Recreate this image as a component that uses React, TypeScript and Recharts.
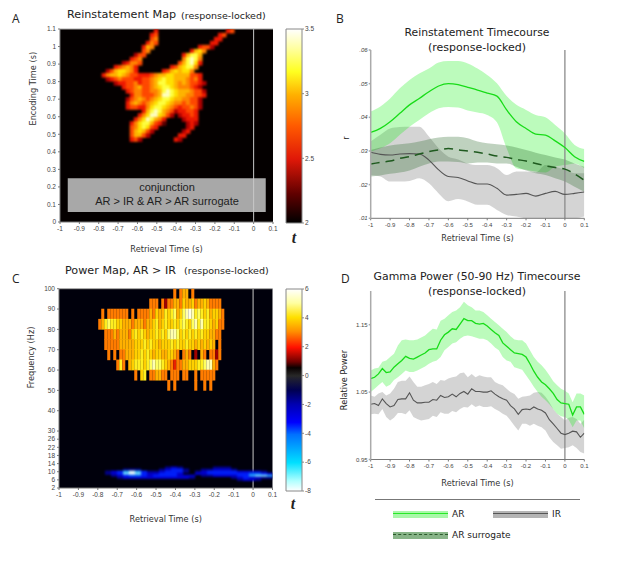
import React from "react";
import {
  ComposedChart, Area, Line, Scatter, XAxis, YAxis, ReferenceLine, ReferenceArea, CartesianGrid, Bar,
} from "recharts";

const retrievalTicks = [-1, -0.9, -0.8, -0.7, -0.6, -0.5, -0.4, -0.3, -0.2, -0.1, 0, 0.1];
const encodingTicks = [0, 0.1, 0.2, 0.3, 0.4, 0.5, 0.6, 0.7, 0.8, 0.9, 1, 1.1];
const freqTicks = [2, 6, 10, 14, 18, 22, 26, 30, 40, 50, 60, 70, 80, 90, 100];
const rTicks = [0.01, 0.02, 0.03, 0.04, 0.05, 0.06];
const powerTicks = [0.95, 1.05, 1.15];

// Panel B, time steps of 0.05 s
const timeB = [-1, -0.95, -0.9, -0.85, -0.8, -0.75, -0.7, -0.65, -0.6, -0.55, -0.5, -0.45, -0.4, -0.35, -0.3, -0.25, -0.2, -0.15, -0.1, -0.05, 0, 0.05, 0.1];
const arB = [.0355, .0367, .0387, .0412, .0437, .0456, .0476, .0493, .05, .0497, .0489, .0481, .0472, .0463, .0422, .0387, .0367, .035, .0347, .033, .031, .0283, .0269];
const arBHi = [.0417, .0432, .0456, .0486, .0511, .053, .0545, .0563, .0567, .0567, .056, .0545, .0526, .0501, .0463, .0437, .0422, .0407, .04, .0377, .0352, .0318, .0306];
const arBLo = [.0298, .0308, .0323, .0348, .0372, .0392, .0412, .0427, .0431, .0429, .042, .0414, .0407, .0385, .0308, .0249, .0244, .0239, .0236, .0253, .0258, .0263, .0249];
const irB = [.0296, .029, .0288, .0291, .0292, .0291, .0273, .0244, .0224, .0221, .0211, .0202, .0202, .0189, .0169, .0171, .0174, .0166, .0174, .018, .0171, .0174, .0178];
const irBHi = [.0328, .0348, .0367, .0371, .0372, .0372, .0343, .0308, .0283, .0275, .0263, .0258, .0258, .0249, .0229, .0239, .0239, .0236, .0258, .0253, .0244, .0234, .0234];
const irBLo = [.0229, .0224, .0209, .0209, .0211, .0219, .0204, .0174, .0151, .0157, .015, .014, .014, .0125, .011, .0105, .01, .01, .01, .01, .01, .01, .0105];
const surB = [.0261, .0266, .027, .0278, .0283, .0291, .0298, .0303, .0307, .0303, .03, .0296, .0291, .0285, .0281, .0275, .027, .0263, .0256, .0251, .0246, .0232, .0213];
const surBHi = [.0303, .031, .0316, .032, .0323, .0328, .0335, .034, .0342, .0342, .0338, .0328, .0323, .032, .0316, .031, .0303, .0295, .0288, .0281, .0275, .0263, .0253];
const surBLo = [.0224, .0227, .0232, .0236, .0242, .0253, .0263, .0269, .0269, .0267, .0263, .0266, .0266, .0263, .0263, .0253, .0242, .0234, .0229, .0219, .0209, .0194, .0179];

// Panel D, time steps of 0.02 s
const timeD = [-1, -.98, -.96, -.94, -.92, -.9, -.88, -.86, -.84, -.82, -.8, -.78, -.76, -.74, -.72, -.7, -.68, -.66, -.64, -.62, -.6, -.58, -.56, -.54, -.52, -.5, -.48, -.46, -.44, -.42, -.4, -.38, -.36, -.34, -.32, -.3, -.28, -.26, -.24, -.22, -.2, -.18, -.16, -.14, -.12, -.1, -.08, -.06, -.04, -.02, 0, .02, .04, .06, .08, .1];
const arD = [1.070, 1.072, 1.077, 1.085, 1.079, 1.080, 1.087, 1.092, 1.097, 1.103, 1.100, 1.099, 1.102, 1.105, 1.108, 1.113, 1.114, 1.114, 1.127, 1.135, 1.139, 1.144, 1.143, 1.151, 1.159, 1.156, 1.156, 1.152, 1.151, 1.152, 1.148, 1.143, 1.138, 1.134, 1.123, 1.118, 1.113, 1.108, 1.107, 1.106, 1.102, 1.092, 1.081, 1.072, 1.065, 1.061, 1.055, 1.048, 1.039, 1.034, 1.033, 1.032, 1.016, 1.028, 1.028, 1.017];
const arDHi = [1.082, 1.085, 1.086, 1.095, 1.097, 1.102, 1.107, 1.119, 1.127, 1.128, 1.127, 1.127, 1.128, 1.131, 1.134, 1.139, 1.144, 1.143, 1.156, 1.159, 1.164, 1.169, 1.171, 1.176, 1.184, 1.179, 1.176, 1.171, 1.171, 1.169, 1.164, 1.159, 1.154, 1.149, 1.144, 1.139, 1.133, 1.128, 1.127, 1.127, 1.122, 1.112, 1.102, 1.095, 1.090, 1.083, 1.075, 1.066, 1.060, 1.055, 1.052, 1.048, 1.035, 1.048, 1.048, 1.045];
const arDLo = [1.050, 1.055, 1.060, 1.065, 1.058, 1.061, 1.068, 1.072, 1.077, 1.082, 1.080, 1.080, 1.082, 1.085, 1.088, 1.092, 1.095, 1.097, 1.102, 1.112, 1.117, 1.122, 1.124, 1.129, 1.133, 1.134, 1.133, 1.131, 1.129, 1.129, 1.127, 1.122, 1.116, 1.112, 1.102, 1.097, 1.095, 1.087, 1.085, 1.083, 1.075, 1.067, 1.058, 1.050, 1.043, 1.038, 1.032, 1.025, 1.018, 1.014, 1.013, 1.009, .998, 1.008, 1.008, .996];
const irD = [1.032, 1.033, 1.030, 1.040, 1.033, 1.028, 1.030, 1.039, 1.040, 1.040, 1.049, 1.038, 1.034, 1.034, 1.035, 1.035, 1.039, 1.038, 1.045, 1.042, 1.043, 1.047, 1.043, 1.048, 1.051, 1.047, 1.055, 1.051, 1.051, 1.050, 1.050, 1.052, 1.047, 1.043, 1.040, 1.038, 1.030, 1.025, 1.017, 1.024, 1.025, 1.024, 1.028, 1.025, 1.023, 1.019, 1.009, 1.003, .996, .989, .987, .989, .992, .991, .983, .989];
const irDHi = [1.045, 1.043, 1.048, 1.050, 1.045, 1.048, 1.055, 1.065, 1.067, 1.067, 1.073, 1.065, 1.058, 1.058, 1.060, 1.062, 1.065, 1.062, 1.068, 1.067, 1.070, 1.072, 1.073, 1.078, 1.079, 1.072, 1.077, 1.072, 1.075, 1.073, 1.072, 1.072, 1.065, 1.062, 1.060, 1.055, 1.050, 1.047, 1.040, 1.043, 1.044, 1.045, 1.049, 1.050, 1.049, 1.043, 1.035, 1.025, 1.018, 1.013, 1.008, 1.012, 1.013, 1.010, 1.003, 1.009];
const irDLo = [1.017, 1.018, 1.017, 1.025, 1.013, 1.008, 1.012, 1.019, 1.019, 1.017, 1.023, 1.013, 1.010, 1.008, 1.009, 1.010, 1.015, 1.013, 1.020, 1.018, 1.018, 1.022, 1.020, 1.025, 1.028, 1.027, 1.032, 1.028, 1.030, 1.028, 1.028, 1.029, 1.025, 1.022, 1.018, 1.015, 1.008, 1.000, .993, 1.003, 1.003, 1.000, 1.003, 1.000, .998, .993, .983, .976, .971, .966, .967, .968, .971, .967, .961, .959];

// Panel A map: one list per encoding-time row, top first; each entry is [first column, level digits]
const heatARows: [number, string][][] = [
  [],
  [[16, "3"], [34, "34"]],
  [[15, "34"], [32, "34"]],
  [[15, "45"], [31, "33"]],
  [[14, "354"], [30, "33"]],
  [[13, "365"], [27, "3442"]],
  [[13, "45"], [25, "3675"]],
  [[11, "244"], [23, "36886"]],
  [[10, "345"], [23, "58985"]],
  [[8, "23554"], [22, "468973"]],
  [[6, "345653"], [20, "3467885"]],
  [[4, "24677653"], [18, "34676775"]],
  [[3, "3566765443"], [13, "334566776666443"]],
  [[4, "2345444334"], [14, "45678776665453"]],
  [[6, "2334453"], [13, "4456887765654432"]],
  [[8, "34456"], [13, "445678876555432"]],
  [[9, "34554"], [14, "455689876665442"]],
  [[10, "3554"], [14, "445699876655443"]],
  [[9, "24565"], [14, "45678876655442"]],
  [[9, "35654"], [14, "56788765545442"]],
  [[9, "34433"], [14, "57887654344542"]],
  [[13, "36898654233443"]],
  [[12, "357997642"], [22, "23343"]],
  [[11, "35798653"], [23, "2333"]],
  [[10, "357886431"], [24, "232"]],
  [[10, "4578743"], [24, "23"]],
  [[10, "467642"], [23, "23"]],
  [[10, "46642"], [22, "33"]],
  [[10, "342"], [21, "32"]],
];
const heatAT0 = -0.835;
const heatATStep = 0.0207;
const heatAE0 = 1.111;
const heatAEStep = 0.0229;

// Panel C map, gamma rows: 97.5 Hz first, one digit per time column
const z = (n: number) => "0".repeat(n);
const gammaRows = [
  z(25) + "3034403" + z(10),
  z(17) + "333031" + "334435445344543333" + "0",
  "030" + "3333333" + "030" + "3333" + "4354465674578986765645543",
  "34676655" + "444344434" + "4564565565" + "676578686" + "654533",
  "00" + "333434443" + "5656545565" + "65788756" + "5656565544" + "33" + "0",
  "00" + "333334444" + "455565655455" + "56565565" + "54545454" + "030",
  "000" + "303033" + "444556565455445543" + "0" + "343" + "010" + "43" + "0" + "33" + "1" + "3" + "0",
  z(6) + "3630" + "45666567877654" + "3233" + "445556678" + "84" + "3" + "00",
  z(12) + "30560" + "334433" + "0" + "333" + "0" + "33" + "00" + "3" + "0" + "3333" + "3" + "000",
  z(23) + "303" + z(6) + "3" + "00" + "3" + "0" + "3" + z(4),
];
const gammaFreqs = [97.5, 92.5, 87.5, 82.5, 77.5, 72.5, 67.5, 62.5, 57.5, 52.5];
const gammaT0 = -0.79;
const gammaTStep = 0.01546;

// Panel C map, alpha rows: one digit (t = -digit) per time column
const alphaFreqs = [12, 11, 10, 9, 8, 7, 6];
const alphaRows = [
  "0000000000121000001110000000",
  "0001110001233100112221000000",
  "1235753112333101233333222210",
  "1236863223332002233333334432",
  "0123443233332220112222335665",
  "0012222222222210000001232211",
  "0000000000000000000000122100",
];
const alphaT0 = -0.747;
const alphaTStep = 0.0309;

const hotPalette = ["#000", "#600000", "#b00000", "#ee1800", "#ff4800", "#ff8400", "#ffb400", "#ffe000", "#ffff40", "#ffffc0"];
const gammaPalette = ["#000", "#a00000", "#e82000", "#ff7c00", "#ffb000", "#ffd000", "#ffee20", "#ffff60", "#ffffb0", "#ffffe8"];
const bluePalette = ["#000", "#000088", "#0000d0", "#0020ff", "#0060ff", "#30b0ff", "#80e8ff", "#d0faff", "#ffffff"];

const timeMap = {
  heatA: heatARows.flatMap((row, r) => row.flatMap(([start, digits]) =>
    digits.split("").map((d, i) => ({ t: heatAT0 + heatATStep * (start + i), y: heatAE0 - heatAEStep * r, level: +d })).filter(c => c.level > 0))),
  gamma: gammaRows.flatMap((row, r) => row.split("").map((d, i) => ({ t: gammaT0 + gammaTStep * i, y: gammaFreqs[r], level: +d })).filter(c => c.level > 0)),
  alpha: alphaRows.flatMap((row, r) => row.split("").map((d, i) => ({ t: alphaT0 + alphaTStep * i, y: alphaFreqs[r], level: +d })).filter(c => c.level > 0)),
};

const dataB = timeB.map((t, i) => ({ t, ar: arB[i], arBand: [arBLo[i], arBHi[i]], ir: irB[i], irBand: [irBLo[i], irBHi[i]], sur: surB[i], surBand: [surBLo[i], surBHi[i]] }));
const dataD = timeD.map((t, i) => ({ t, ar: arD[i], arBand: [arDLo[i], arDHi[i]], ir: irD[i], irBand: [irDLo[i], irDHi[i]] }));

const SANS = "'Liberation Sans', Arial, sans-serif";
const VERD = "'DejaVu Sans', Verdana, sans-serif";
const tick = { fontSize: 6.5, fontFamily: SANS, fill: "#444" };
const tickSmall = { fontSize: 6, fontFamily: SANS, fill: "#444" };
const axisLabel = { fontSize: 8.2, fontFamily: VERD, fill: "#333" };

const cell = (w: number, h: number, palette: string[]) => (p: any) => (
  <rect x={p.cx - w / 2} y={p.cy - h / 2} width={w} height={h} fill={palette[p.payload.level]} />
);

const Txt = ({ x, y, size, children, center, font, color, weight, style }: any) => (
  <div style={{
    position: "absolute", left: x, top: y, whiteSpace: "nowrap", lineHeight: 1, fontSize: size, fontFamily: font || VERD, color: color || "#222",
    fontWeight: weight, transform: center ? "translate(-50%,-50%)" : "translateY(-50%)", ...style,
  }}>{children}</div>
);

const at = (left: number, top: number, content: React.ReactNode) => (
  <div style={{ position: "absolute", left, top }}>{content}</div>
);

const xAxisProps = {
  dataKey: "t", type: "number" as const, domain: [-1, 0.1], ticks: retrievalTicks, interval: 0, allowDataOverflow: true,
  tick, tickSize: 2, stroke: "#777", height: 30, tickMargin: 2,
};

function MapA() {
  return (
    <ComposedChart width={290} height={245} margin={{ left: 30, top: 19, right: 17, bottom: 0 }} data={[]}>
      <CartesianGrid fill="#040000" horizontal={false} vertical={false} />
      <XAxis {...(xAxisProps as any)} height={33} label={{ value: "Retrieval Time (s)", position: "insideBottom", offset: 3, style: axisLabel }} />
      <YAxis type="number" dataKey="y" domain={[0, 1.1]} ticks={encodingTicks} interval={0} allowDataOverflow width={30} tick={tick} tickSize={2} stroke="#777" tickMargin={2}
        label={{ value: "Encoding Time (s)", angle: -90, position: "insideLeft", offset: 3, style: axisLabel }} />
      <Scatter data={timeMap.heatA} dataKey="y" className="blurA" shape={cell(4.6, 4.6, hotPalette)} isAnimationActive={false} />
      <ReferenceArea x1={-0.96} x2={0.0625} y1={0.057} y2={0.25} fill="#a8a8a8" fillOpacity={1} stroke="none" />
      <ReferenceLine x={0} stroke="#c8c8c8" strokeWidth={1} />
      <ReferenceLine y={1.1} stroke="#aaa" strokeWidth={1} />
    </ComposedChart>
  );
}

function MapC() {
  return (
    <ComposedChart width={290} height={250} margin={{ left: 29, top: 8.7, right: 17.5, bottom: 0 }} data={[]}>
      <CartesianGrid fill="#00000c" horizontal={false} vertical={false} />
      <XAxis {...(xAxisProps as any)} height={42} label={{ value: "Retrieval Time (s)", position: "insideBottom", offset: 8, style: axisLabel }} />
      <YAxis type="number" dataKey="y" domain={[2, 100]} ticks={freqTicks} interval={0} allowDataOverflow width={30} tick={tick} tickSize={2} stroke="#777" tickMargin={2}
        label={{ value: "Frequency (Hz)", angle: -90, position: "insideLeft", offset: 2, style: axisLabel }} />
      <Scatter data={timeMap.gamma} dataKey="y" className="blurC" shape={cell(3.05, 10.8, gammaPalette)} isAnimationActive={false} />
      <Scatter data={timeMap.alpha} dataKey="y" className="blurC2" shape={cell(6.2, 2.3, bluePalette)} isAnimationActive={false} />
      <ReferenceLine x={0} stroke="#c8c8c8" strokeWidth={1} />
      <ReferenceLine y={100} stroke="#aaa" strokeWidth={1} />
    </ComposedChart>
  );
}

const stops = (s: [string, string][]) => s.map(([o, c]) => <stop key={o} offset={o} stopColor={c} />);
const hotBar: [string, string][] = [["0", "#ffffff"], ["0.1", "#ffffa0"], ["0.22", "#ffff20"], ["0.34", "#ffb000"], ["0.5", "#ff5a00"], ["0.67", "#e01808"], ["0.85", "#600000"], ["1", "#000000"]];
const powerBar: [string, string][] = [["0", "#ffffff"], ["0.07", "#ffffa0"], ["0.14", "#ffe000"], ["0.21", "#ff9000"], ["0.29", "#ff1000"], ["0.36", "#700000"], ["0.39", "#080000"], ["0.43", "#282828"], ["0.5", "#000050"], ["0.57", "#0000b0"], ["0.66", "#0000ff"], ["0.72", "#0070ff"], ["0.86", "#00e0ff"], ["0.95", "#b0ffff"], ["1", "#ffffff"]];

function ColorBar({ id, domain, ticks, colors, h }: any) {
  return (
    <ComposedChart width={50} height={h + 12} margin={{ left: 1, top: 6, right: 0, bottom: 6 }} data={[{ name: "t", range: domain }]} barCategoryGap={0}>
      <defs><linearGradient id={id} x1="0" y1="0" x2="0" y2="1">{stops(colors)}</linearGradient></defs>
      <XAxis dataKey="name" hide />
      <YAxis orientation="right" type="number" domain={domain} ticks={ticks} interval={0} width={33} tick={tick} tickSize={2} stroke="#888" axisLine={false} tickMargin={1} />
      <Bar dataKey="range" fill={`url(#${id})`} stroke="#888" strokeWidth={1} isAnimationActive={false} />
    </ComposedChart>
  );
}

const band = (key: string, fill: string, op: number, type: any) => (
  <Area dataKey={key} type={type} stroke="none" fill={fill} fillOpacity={op} isAnimationActive={false} dot={false} activeDot={false} legendType="none" />
);

function TimecourseB() {
  return (
    <ComposedChart width={250} height={210} margin={{ left: 0.7, top: 10, right: 20.7, bottom: 0 }} data={dataB}>
      <XAxis {...(xAxisProps as any)} tick={tickSmall} height={31.7} label={{ value: "Retrieval Time (s)", position: "insideBottom", offset: 9, style: axisLabel }} />
      <YAxis type="number" domain={[0.01, 0.06]} ticks={rTicks} interval={0} allowDataOverflow width={15} tick={{ ...tickSmall, fontStyle: "italic" }} tickSize={2} stroke="#aaa" strokeWidth={1.5} tickMargin={1}
        tickFormatter={(v: number) => v.toFixed(2).replace(/^0/, "")} />
      {band("irBand", "#808080", 0.34, "monotone")}
      {band("arBand", "#10f010", 0.28, "monotone")}
      {band("surBand", "#2a6a2a", 0.3, "monotone")}
      <ReferenceLine x={0} stroke="#8a8a8a" strokeOpacity={0.85} strokeWidth={1.5} />
      <Line dataKey="ir" type="monotone" stroke="#555" strokeWidth={1.1} dot={false} isAnimationActive={false} />
      <Line dataKey="ar" type="monotone" stroke="#18dc18" strokeWidth={1.3} dot={false} isAnimationActive={false} />
      <Line dataKey="sur" type="monotone" stroke="#1f5a1f" strokeWidth={1.5} strokeDasharray="9 6" dot={false} isAnimationActive={false} />
    </ComposedChart>
  );
}

function TimecourseD() {
  return (
    <ComposedChart width={250} height={210} margin={{ left: 0.7, top: 10, right: 20.7, bottom: 0 }} data={dataD}>
      <XAxis {...(xAxisProps as any)} tick={tickSmall} height={31.5} label={{ value: "Retrieval Time (s)", position: "insideBottom", offset: 5, style: axisLabel }} />
      <YAxis type="number" domain={[0.95, 1.2]} ticks={powerTicks} interval={0} allowDataOverflow width={15} tick={tickSmall} tickSize={2} stroke="#aaa" strokeWidth={1.5} tickMargin={1}
        tickFormatter={(v: number) => v.toFixed(2)} />
      {band("irBand", "#808080", 0.34, "linear")}
      {band("arBand", "#10f010", 0.28, "linear")}
      <ReferenceLine x={0} stroke="#8a8a8a" strokeOpacity={0.85} strokeWidth={1.5} />
      <Line dataKey="ir" type="linear" stroke="#555" strokeWidth={1.1} dot={false} isAnimationActive={false} />
      <Line dataKey="ar" type="linear" stroke="#18dc18" strokeWidth={1.3} dot={false} isAnimationActive={false} />
    </ComposedChart>
  );
}

const Swatch = ({ x, y, bg, line, dash }: any) => (
  <div style={{ position: "absolute", left: x, top: y - 3.5, width: 55, height: 7, background: bg }}>
    <div style={{ position: "absolute", left: 0, right: 0, top: 2.5, height: 0, borderTop: `1.5px ${dash ? "dashed" : "solid"} ${line}` }} />
  </div>
);

export default function App() {
  return (
    <div style={{ position: "absolute", left: 0, top: 0, width: 617, height: 571, background: "#fff", overflow: "hidden" }}>
      <style>{`.blurA{filter:blur(1.3px)} .blurC{filter:blur(.6px)} .blurC2{filter:blur(.8px)}`}</style>
      {at(0, 10, <MapA />)}
      {at(0, 280, <MapC />)}
      {at(355, 40, <TimecourseB />)}
      {at(355, 281, <TimecourseD />)}
      {at(285, 23, <ColorBar id="gA" domain={[2, 3.5]} ticks={[2, 2.5, 3, 3.5]} colors={hotBar} h={194} />)}
      {at(284.5, 283, <ColorBar id="gC" domain={[-8, 6]} ticks={[-8, -6, -4, -2, 0, 2, 4, 6]} colors={powerBar} h={202} />)}

      <Txt x={12} y={19} size={12} font="'Open Sans', sans-serif">A</Txt>
      <Txt x={336} y={19} size={12} font="'Open Sans', sans-serif">B</Txt>
      <Txt x={12} y={279} size={12} font="'Open Sans', sans-serif">C</Txt>
      <Txt x={341} y={279} size={12} font="'Open Sans', sans-serif">D</Txt>

      <Txt x={67} y={15} size={11.2}>Reinstatement Map</Txt>
      <Txt x={181} y={16} size={9.5}>(response-locked)</Txt>
      <Txt x={65} y={271} size={11.2}>Power Map, AR &gt; IR</Txt>
      <Txt x={184} y={271} size={9.5}>(response-locked)</Txt>
      <Txt x={477} y={33} size={10.8} center>Reinstatement Timecourse</Txt>
      <Txt x={477} y={47} size={11} center>(response-locked)</Txt>
      <Txt x={477} y={277} size={10.9} center>Gamma Power (50-90 Hz) Timecourse</Txt>
      <Txt x={477} y={291} size={11} center>(response-locked)</Txt>

      <Txt x={346} y={138} size={8.2} center style={{ transform: "translate(-50%,-50%) rotate(-90deg)" }}>r</Txt>
      <Txt x={344} y={380} size={8.2} center style={{ transform: "translate(-50%,-50%) rotate(-90deg)" }}>Relative Power</Txt>

      <Txt x={167} y={187} size={11} font={SANS} center>conjunction</Txt>
      <Txt x={167} y={201} size={11} font={SANS} center>AR &gt; IR &amp; AR &gt; AR surrogate</Txt>

      <Txt x={294} y={238} size={16} font="'Liberation Serif', serif" weight="bold" center style={{ fontStyle: "italic" }}>t</Txt>
      <Txt x={293} y={504} size={16} font="'Liberation Serif', serif" weight="bold" center style={{ fontStyle: "italic" }}>t</Txt>

      <div style={{ position: "absolute", left: 375, top: 498.5, width: 205, height: 1.5, background: "#777" }} />
      <Swatch x={393} y={514} bg="#a8f8a8" line="#28e828" />
      <Swatch x={493} y={514} bg="#b4b4b4" line="#555" />
      <Swatch x={393} y={535} bg="#88b488" line="#2a5a2a" dash />
      <Txt x={452} y={514} size={9}>AR</Txt>
      <Txt x={552} y={514} size={9}>IR</Txt>
      <Txt x={452} y={535} size={9}>AR surrogate</Txt>
    </div>
  );
}
